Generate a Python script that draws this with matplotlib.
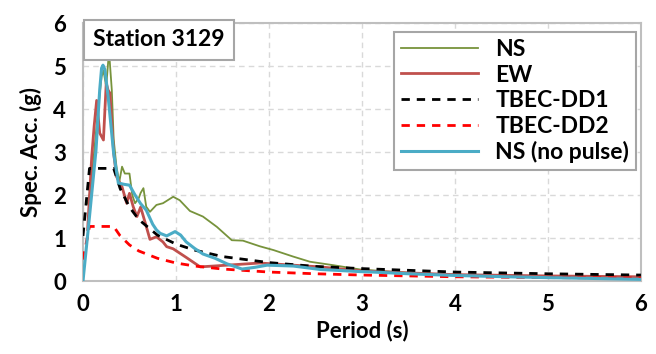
import numpy as np
import matplotlib
matplotlib.use('Agg')
import matplotlib.pyplot as plt

plt.rcParams['font.family'] = ['Lato', 'DejaVu Sans']
plt.rcParams['font.weight'] = 'bold'

# response spectra (period in s, Sa in g)
ns_T = [0.05, 0.08, 0.12, 0.165, 0.2, 0.22, 0.25, 0.28, 0.31, 0.33, 0.36, 0.39, 0.42,
        0.45, 0.5, 0.53, 0.56, 0.6, 0.62, 0.65, 0.68, 0.72, 0.79, 0.86, 0.97, 1.04,
        1.15, 1.29, 1.44, 1.6, 1.72, 1.9, 2.05, 2.26, 2.44, 2.69, 2.98, 3.3, 3.6,
        4.0, 4.5, 5.0, 5.5, 6.0]
ns_Sa = [1.8, 2.1, 3.0, 4.05, 4.75, 4.9, 4.52, 5.35, 4.44, 3.3, 2.66, 2.3, 2.66,
         2.5, 2.5, 2.0, 1.81, 1.93, 2.05, 2.16, 1.73, 1.61, 1.77, 1.81, 1.96, 1.88,
         1.63, 1.5, 1.26, 0.95, 0.94, 0.81, 0.72, 0.57, 0.45, 0.37, 0.27, 0.22, 0.18,
         0.15, 0.12, 0.1, 0.08, 0.06]

ew_T = [0.05, 0.094, 0.12, 0.147, 0.18, 0.22, 0.25, 0.27, 0.29, 0.33, 0.36, 0.42,
        0.47, 0.5, 0.54, 0.58, 0.62, 0.67, 0.72, 0.79, 0.86, 0.9, 0.97, 1.11, 1.26,
        1.55, 1.9, 2.26, 2.55, 2.98, 3.5, 4.0, 5.0, 6.0]
ew_Sa = [1.2, 2.89, 3.6, 4.2, 3.44, 3.28, 4.6, 4.44, 4.37, 2.98, 2.43, 2.19,
         1.81, 2.04, 1.73, 1.5, 1.72, 1.35, 0.97, 1.03, 0.91, 0.8, 0.75, 0.55, 0.33,
         0.37, 0.42, 0.37, 0.33, 0.24, 0.19, 0.15, 0.12, 0.1]

dd_T = [0.0, 0.07, 0.33, 0.4, 0.5, 0.6, 0.8, 1.0, 1.2, 1.5, 2.0, 2.5, 3.0, 4.0, 5.0, 6.0]
dd1_Sa = [1.05, 2.62, 2.62, 2.15, 1.72, 1.43, 1.07, 0.86, 0.72, 0.57, 0.43, 0.34,
          0.29, 0.21, 0.17, 0.14]
dd2_Sa = [0.5, 1.27, 1.27, 1.05, 0.84, 0.7, 0.53, 0.42, 0.35, 0.28, 0.21, 0.17,
          0.14, 0.1, 0.08, 0.07]

np_T = [0.0, 0.07, 0.14, 0.18, 0.2, 0.215, 0.235, 0.27, 0.33, 0.38, 0.44, 0.5, 0.56,
        0.62, 0.68, 0.75, 0.79, 0.83, 0.9, 0.99, 1.05, 1.11, 1.2, 1.29, 1.42, 1.55,
        1.71, 1.85, 1.98, 2.26, 2.55, 2.98, 3.12, 3.5, 4.0, 4.56, 5.0, 5.5, 6.0]
np_Sa = [0.0, 1.5, 3.05, 4.45, 4.95, 5.02, 4.92, 4.3, 2.97, 2.28, 2.25, 2.23, 2.0,
         1.8, 1.65, 1.32, 1.19, 1.11, 1.05, 1.15, 1.07, 0.91, 0.76, 0.63, 0.53, 0.4,
         0.28, 0.32, 0.37, 0.35, 0.27, 0.22, 0.21, 0.17, 0.13, 0.1, 0.08, 0.06, 0.04]

fig = plt.figure(figsize=(6.56, 3.54), dpi=100)
ax = fig.add_axes([0.1265, 0.206, 0.8505, 0.729])

ax.plot(ns_T, ns_Sa, color='#77933C', lw=1.3, label='NS', zorder=3)
ax.plot(ew_T, ew_Sa, color='#C0504D', lw=2.0, label='EW', zorder=3)
ax.plot(dd_T, dd1_Sa, color='black', lw=2.0, ls=(0, (3, 2.5)), label='TBEC-DD1', zorder=3)
ax.plot(dd_T, dd2_Sa, color='#FF0000', lw=2.0, ls=(0, (3, 2.5)), label='TBEC-DD2', zorder=3)
ax.plot(np_T, np_Sa, color='#4BACC6', lw=2.2, label='NS (no pulse)', zorder=3)

ax.set_xlim(0, 6)
ax.set_ylim(0, 6)
ax.set_xticks(range(7))
ax.set_yticks(range(7))
ax.grid(True, color='#d9d9d9', ls=(0, (4, 3)), lw=1.0)
ax.tick_params(length=0, labelsize=16)
ax.tick_params(axis='x', pad=9)
ax.tick_params(axis='y', pad=12)
for lab in ax.get_xticklabels() + ax.get_yticklabels():
    lab.set_fontweight('bold')
for s in ax.spines.values():
    s.set_color('#bfbfbf')
    s.set_linewidth(1.5)

ax.set_xlabel('Period (s)', fontsize=16, fontweight='bold', labelpad=4)
ax.set_ylabel('Spec. Acc. (g)', fontsize=16, fontweight='bold', labelpad=8)

ax.text(0.018, 0.975, 'Station 3129', transform=ax.transAxes, ha='left', va='top',
        fontsize=16.5, fontweight='bold', zorder=5,
        bbox=dict(boxstyle='square,pad=0.4', fc='white', ec='#a6a6a6', lw=1.5))

leg = ax.legend(loc='upper right', bbox_to_anchor=(0.991, 0.965), borderaxespad=0,
                fontsize=16.5, handlelength=3.35, labelspacing=0.2, borderpad=0.3,
                handletextpad=0.75, fancybox=False, framealpha=1, edgecolor='#a6a6a6')
leg.get_frame().set_linewidth(1.5)
for t in leg.get_texts():
    t.set_fontweight('bold')

fig.savefig('out.png', dpi=100)
